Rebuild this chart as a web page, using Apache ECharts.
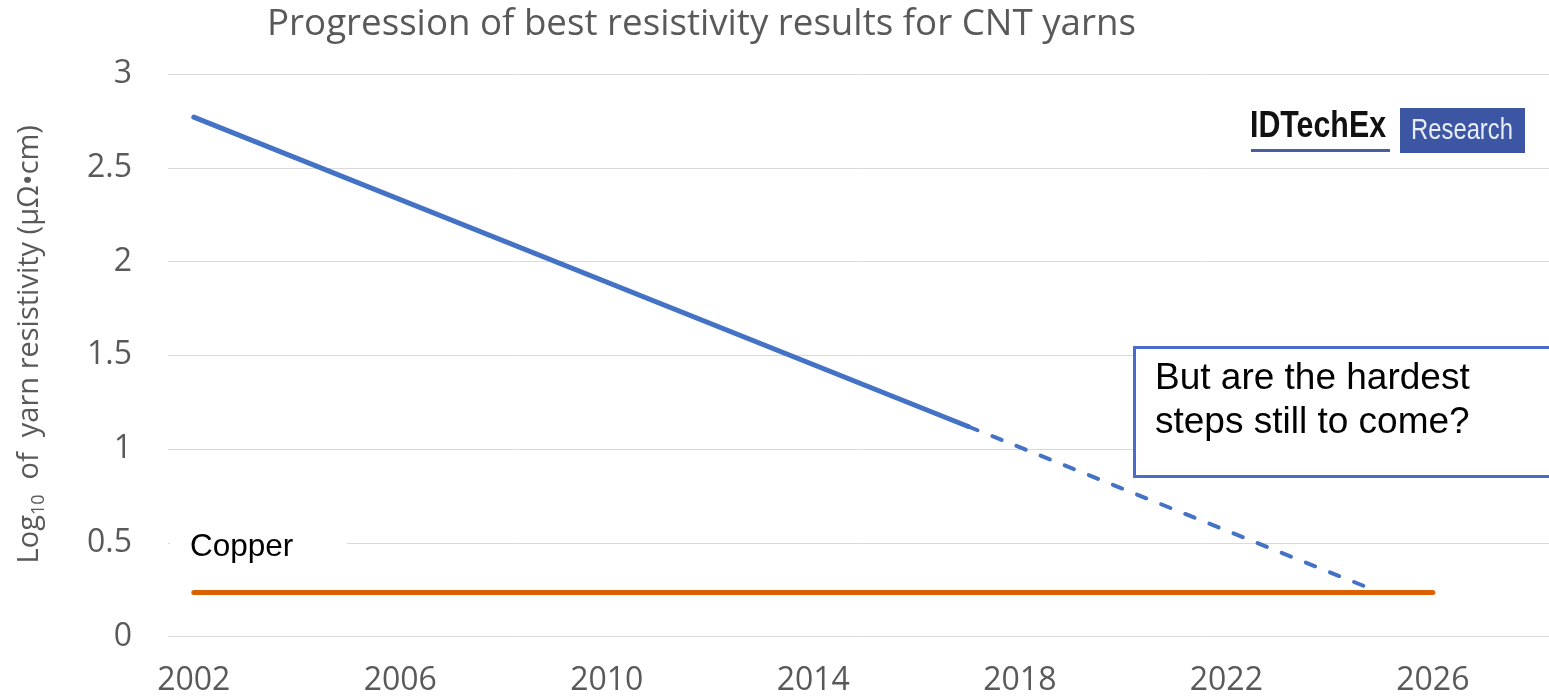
<!DOCTYPE html>
<html>
<head>
<meta charset="utf-8">
<script src="https://cdn.jsdelivr.net/npm/echarts@6/dist/echarts.min.js"></script>
<style>
  html, body { margin: 0; padding: 0; background: #fff; }
  #chart { width: 1549px; height: 700px; }
</style>
</head>
<body>
<div id="chart"></div>
<script>
// data
var yearTicks = [2002, 2006, 2010, 2014, 2018, 2022, 2026];
var cntYears = [2002, 2017];
var cntValues = [2.77, 1.12];
var projYears = [2017, 2024.75];
var projValues = [1.12, 0.26];
var copperYears = [2002, 2026];
var copperValues = [0.235, 0.235];

function pairs(xs, ys) {
  return xs.map(function (x, i) { return [x, ys[i]]; });
}

var myChart = echarts.init(document.getElementById('chart'));

var grey = '#595959';
var font = '"Open Sans", sans-serif';
var arial = '"Liberation Sans", Arial, sans-serif';

var option = {
  animation: false,
  title: {
    text: 'Progression of best resistivity results for CNT yarns',
    left: 262,
    top: 1,
    textStyle: { fontFamily: font, fontSize: 36.7, fontWeight: 'normal', color: grey }
  },
  grid: { left: 168, right: 0, top: 74, bottom: 63.5 },
  xAxis: {
    type: 'value',
    min: 2001.5,
    max: 2028.25,
    interval: 0.5,
    axisLine: { show: false },
    axisTick: { show: false },
    splitLine: { show: false },
    axisLabel: {
      margin: 28,
      fontFamily: font,
      fontSize: 32,
      color: grey,
      showMaxLabel: false,
      formatter: function (v) {
        for (var i = 0; i < yearTicks.length; i++) {
          if (Math.abs(v - yearTicks[i]) < 1e-6) return String(yearTicks[i]);
        }
        return '';
      }
    }
  },
  yAxis: {
    type: 'value',
    min: 0,
    max: 3,
    interval: 0.5,
    axisLine: { show: false },
    axisTick: { show: false },
    splitLine: { lineStyle: { color: '#d9d9d9', width: 1 } },
    axisLabel: { margin: 36, fontFamily: font, fontSize: 32, color: grey },
    name: '{a|Log}{sub|10}{a|  of  yarn resistivity (μΩ•cm)}',
    nameLocation: 'middle',
    nameGap: 120,
    nameTextStyle: {
      color: grey,
      padding: [0, 0, 0, 22],
      rich: {
        a: { fontFamily: font, fontSize: 29, color: grey, lineHeight: 36, verticalAlign: 'middle' },
        sub: { fontFamily: font, fontSize: 18, color: grey, lineHeight: 36, verticalAlign: 'bottom' }
      }
    }
  },
  series: [
    {
      name: 'CNT yarn',
      type: 'line',
      data: pairs(cntYears, cntValues),
      symbol: 'none',
      lineStyle: { color: '#4472c4', width: 5, cap: 'round' },
      z: 3
    },
    {
      name: 'Projection',
      type: 'line',
      data: pairs(projYears, projValues),
      symbol: 'none',
      lineStyle: { color: '#4472c4', width: 4, type: [10, 16], cap: 'round' },
      z: 4
    },
    {
      name: 'Copper',
      type: 'line',
      data: pairs(copperYears, copperValues),
      symbol: 'none',
      lineStyle: { color: '#dc6000', width: 5, cap: 'round' },
      z: 2
    }
  ],
  graphic: [
    // Copper label on a white patch over the grid line
    { type: 'rect', shape: { x: 170, y: 530, width: 177, height: 30 }, style: { fill: '#fff' }, z: 10 },
    {
      type: 'text', x: 190, y: 547, z: 11,
      style: { text: 'Copper', fontFamily: arial, fontSize: 31.5, fill: '#000', verticalAlign: 'middle' }
    },
    // callout box
    {
      type: 'rect', z: 10,
      shape: { x: 1134.5, y: 347.5, width: 500, height: 129 },
      style: { fill: '#fff', stroke: '#4a6bc8', lineWidth: 3 }
    },
    {
      type: 'text', x: 1155, y: 357, z: 11,
      style: {
        text: 'But are the hardest\nsteps still to come?',
        fontFamily: arial, fontSize: 37, lineHeight: 44,
        fill: '#000', verticalAlign: 'top'
      }
    },
    // IDTechEx logo
    {
      type: 'text', x: 1250, y: 127, z: 11, scaleX: 0.82,
      style: {
        text: 'IDTechEx', fontFamily: arial,
        fontWeight: 'bold', fontSize: 37, fill: '#111', verticalAlign: 'middle'
      }
    },
    { type: 'rect', shape: { x: 1251, y: 149, width: 139, height: 3 }, style: { fill: '#4a5d9c' }, z: 11 },
    { type: 'rect', shape: { x: 1400, y: 108, width: 125, height: 45 }, style: { fill: '#3d56a3' }, z: 10 },
    {
      type: 'text', x: 1462, y: 131, z: 11, scaleX: 0.82,
      style: {
        text: 'Research', fontFamily: arial,
        fontSize: 29, fill: '#e8ecf6', align: 'center', verticalAlign: 'middle'
      }
    }
  ]
};

myChart.setOption(option);
</script>
</body>
</html>
